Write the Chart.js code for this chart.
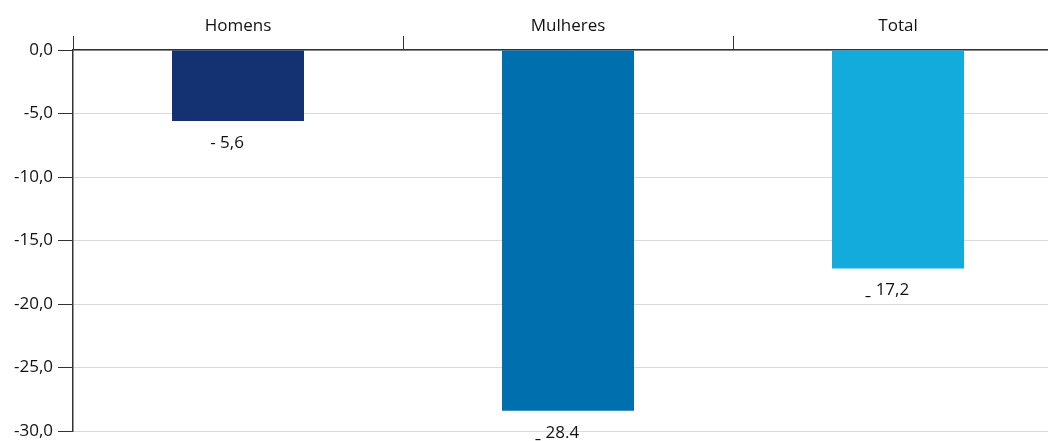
<!DOCTYPE html>
<html lang="pt">
<head>
<meta charset="utf-8">
<script src="https://cdn.jsdelivr.net/npm/chart.js@4.4.1/dist/chart.umd.min.js"></script>
<style>
  html, body { margin: 0; padding: 0; background: #fff; overflow: hidden; }
  #wrap { width: 1070px; height: 441px; }
</style>
</head>
<body>
<div id="wrap"><canvas id="chart" width="1070" height="441"></canvas></div>
<script>
// Variação por sexo (%)
const categories = ['Homens', 'Mulheres', 'Total'];
const values = [-5.6, -28.4, -17.2];
const valueLabels = ['- 5,6', 'ˍ 28.4', 'ˍ 17,2'];
const barColors = ['#143271', '#006FAD', '#12ABDB'];
const yTickLabels = ['0,0', '-5,0', '-10,0', '-15,0', '-20,0', '-25,0', '-30,0'];

const FONT = "'Open Sans', 'Noto Sans', 'DejaVu Sans', sans-serif";
const TEXT = '#111111';
const AXIS = '#333333';

// Writes each value below the end of its bar
const valueLabelPlugin = {
  id: 'valueLabels',
  afterDatasetsDraw(chart) {
    const ctx = chart.ctx;
    const meta = chart.getDatasetMeta(0);
    ctx.save();
    ctx.font = '17px ' + FONT;
    ctx.fillStyle = TEXT;
    ctx.textAlign = 'center';
    ctx.textBaseline = 'middle';
    meta.data.forEach((bar, i) => {
      ctx.fillText(valueLabels[i], bar.x - 11, bar.y + 22);
    });
    ctx.restore();
  }
};

new Chart(document.getElementById('chart'), {
  type: 'bar',
  data: {
    labels: categories,
    datasets: [{
      data: values,
      backgroundColor: barColors,
      borderWidth: 0,
      barPercentage: 0.4,
      categoryPercentage: 1.0
    }]
  },
  options: {
    responsive: false,
    animation: false,
    layout: { padding: { top: 0, right: 7, bottom: 10, left: 0 } },
    plugins: {
      legend: { display: false },
      tooltip: { enabled: false }
    },
    scales: {
      x: {
        position: 'top',
        offset: true,
        grid: {
          display: true,
          offset: true,
          drawOnChartArea: false,
          tickLength: 14,
          color: AXIS,
          lineWidth: 1
        },
        border: { display: true, color: AXIS, width: 1.5 },
        ticks: {
          color: TEXT,
          font: { family: FONT, size: 17 },
          padding: 0
        },
        afterFit(scale) { scale.height = 50; }
      },
      y: {
        min: -30,
        max: 0,
        grid: {
          color: '#d9d9d9',
          lineWidth: 1,
          tickLength: 15,
          tickColor: AXIS
        },
        border: { display: true, color: AXIS, width: 1.5 },
        ticks: {
          stepSize: 5,
          color: TEXT,
          font: { family: FONT, size: 17 },
          padding: 5,
          callback(value) { return yTickLabels[Math.round(-value / 5)]; }
        },
        afterFit(scale) {
          scale.width = 73;
          scale.paddingTop = 0;
          scale.paddingBottom = 0;
        }
      }
    }
  },
  plugins: [valueLabelPlugin]
});
</script>
</body>
</html>
